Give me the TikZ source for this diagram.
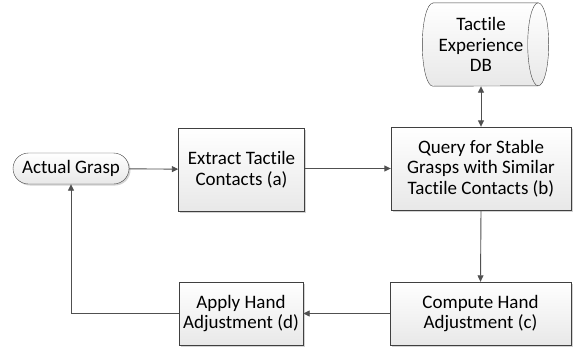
\documentclass[tikz,border=0pt]{standalone}
\usepackage{fontspec}
\setmainfont[RawFeature=-liga]{Carlito}
\usepackage{xcolor}
\usetikzlibrary{
    arrows.meta,
    shadows
}
\definecolor{edgegray}{HTML}{404040}
\definecolor{linegray}{HTML}{505050}

\begin{document}
\begin{tikzpicture}[
    x=1pt, y=-1pt,
    box/.style={
        rectangle,
        minimum width=126pt,
        minimum height=83pt,
        align=center,
        draw=edgegray,
        top color=white,
        bottom color=gray!18,
        drop shadow={shadow xshift=1.5pt, shadow yshift=-1.5pt, opacity=0.35, fill=gray},
        font=\fontsize{19}{20.5}\selectfont
    },
    term/.style={box, rounded corners=15.5pt, minimum width=116pt, minimum height=31pt,
        drop shadow={opacity=0}},
    store/.style={rectangle, align=center, minimum width=105pt, minimum height=83pt,
        font=\fontsize{19}{20.5}\selectfont},
    arrow/.style={draw=linegray, line width=0.9pt, -{Triangle[length=6.5pt, width=6pt]}}
]
\useasboundingbox (0,0) rectangle (581,349);

% Start
\node[term] (grasp) at (71, 168.5) {Actual Grasp};

% Main steps
\node[box] (extract) at (241.5, 169.5) {Extract Tactile\\Contacts (a)};
\node[box, minimum width=180pt] (query) at (481, 168.5) {Query for Stable\\Grasps with Similar\\Tactile Contacts (b)};
\node[box, minimum width=181pt, minimum height=63pt] (compute) at (480.5, 313.5) {Compute Hand\\Adjustment (c)};
\node[box, minimum width=124pt, minimum height=63pt] (apply) at (241, 313.5) {Apply Hand\\Adjustment (d)};

% Database (lying cylinder)
\node[store] (db) at (485.5, 44.5) {};
\draw[edgegray, top color=white, bottom color=gray!18]
    (db.north west) -- (db.north east)
    arc[start angle=90, end angle=-90, x radius=10.5pt, y radius=41.5pt]
    -- (db.south west)
    arc[start angle=270, end angle=90, x radius=10.5pt, y radius=41.5pt] -- cycle;
\draw[edgegray] (db.north east)
    arc[start angle=90, end angle=270, x radius=10.5pt, y radius=41.5pt];
\node[store, minimum width=0pt] (dbtext) at (481, 44.5) {Tactile\\Experience\\DB};

% Arrows
\draw[arrow] (grasp) -- (extract);
\draw[arrow] (extract.east |- query.west) -- (query.west);
\draw[arrow, {Triangle[length=6.5pt, width=6pt]}-{Triangle[length=6.5pt, width=6pt]}] (query.north) -- (query.north |- db.south);
\draw[arrow] (query.south) -- (compute.north);
\draw[arrow] (compute) -- (apply);
\draw[arrow] (apply.west) -| (grasp.south);

\end{tikzpicture}
\end{document}
